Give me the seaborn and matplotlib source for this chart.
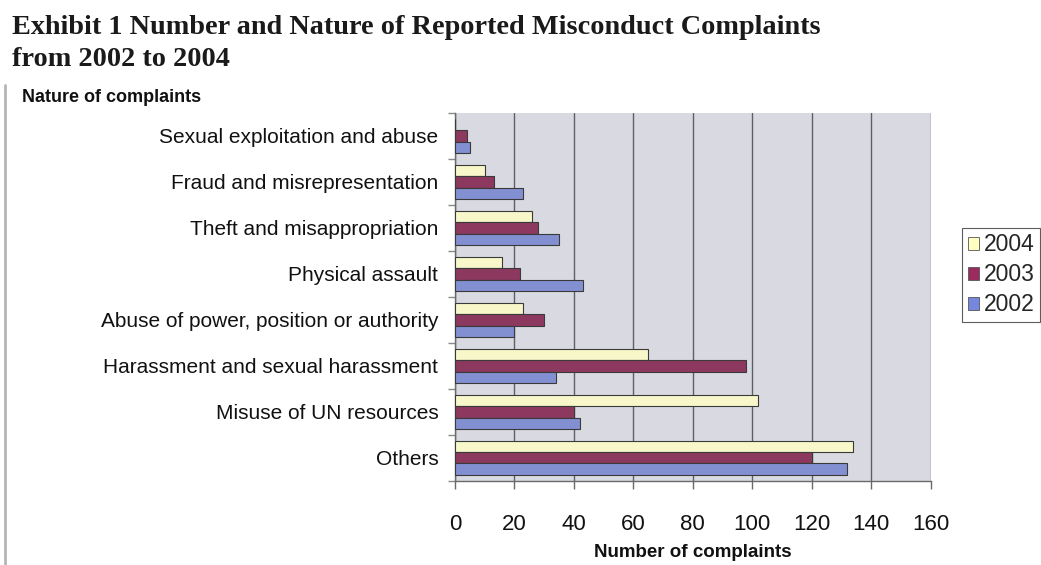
import matplotlib
matplotlib.use("Agg")
import matplotlib.pyplot as plt
from matplotlib.lines import Line2D
from matplotlib.ticker import FixedLocator, NullFormatter
import seaborn as sns
import pandas as pd

categories = [
    "Sexual exploitation and abuse",
    "Fraud and misrepresentation",
    "Theft and misappropriation",
    "Physical assault",
    "Abuse of power, position or authority",
    "Harassment and sexual harassment",
    "Misuse of UN resources",
    "Others",
]
years = ["2004", "2003", "2002"]
values_2004 = [0, 10, 26, 16, 23, 65, 102, 134]
values_2003 = [4, 13, 28, 22, 30, 98, 40, 120]
values_2002 = [5, 23, 35, 43, 20, 34, 42, 132]
x_ticks = [0, 20, 40, 60, 80, 100, 120, 140, 160]

colors = {"2004": "#FFFFC2", "2003": "#9B2A5E", "2002": "#7588DE"}

df = pd.DataFrame({
    "Nature": categories * 3,
    "Year": ["2004"] * 8 + ["2003"] * 8 + ["2002"] * 8,
    "Count": values_2004 + values_2003 + values_2002,
})

sns.set_theme(style="white")
plt.rcParams["font.family"] = ["Liberation Sans", "DejaVu Sans"]

fig = plt.figure(figsize=(10.41, 5.65), dpi=100)
ax = fig.add_axes([0.437, 0.149, 0.457, 0.651])
ax.set_facecolor("#D9D9E1")

sns.barplot(
    data=df, x="Count", y="Nature", hue="Year", hue_order=years,
    order=categories, palette=colors, orient="h", width=0.74,
    edgecolor="#3a3a3a", linewidth=0.8, ax=ax, legend=False, zorder=3,
)

ax.set_xlim(0, 160)
ax.set_ylim(len(categories) - 0.5, -0.5)
ax.xaxis.set_major_locator(FixedLocator(x_ticks))
ax.grid(axis="x", color="#5f5f66", linewidth=1.0, zorder=1)
ax.grid(axis="y", visible=False)

for side in ["top", "right"]:
    ax.spines[side].set_visible(False)
for side in ["left", "bottom"]:
    ax.spines[side].set_color("#6a6a6a")
    ax.spines[side].set_linewidth(1.0)

ax.tick_params(axis="x", which="major", bottom=True, length=6, width=1,
               color="#6a6a6a", direction="out", pad=18, labelsize=16,
               labelcolor="#111111")
ax.tick_params(axis="y", which="major", left=False, length=0, pad=12,
               labelsize=15, labelcolor="#111111")
ax.yaxis.set_minor_locator(FixedLocator([i + 0.5 for i in range(-1, len(categories))]))
ax.yaxis.set_minor_formatter(NullFormatter())
ax.tick_params(axis="y", which="minor", left=True, length=5, width=1,
               color="#8a8a8a", direction="out")

ax.set_xlabel("Number of complaints", fontsize=13.5, fontweight="bold",
              color="#111111", va="center")
ax.xaxis.set_label_coords(0.5, -0.196)
ax.set_ylabel("")

# legend on the right, running past the page edge
handles = [plt.Rectangle((0, 0), 1, 1, facecolor=colors[y], edgecolor="#555555",
                         linewidth=0.6) for y in years]
leg = fig.legend(handles, years, loc="upper left", bbox_to_anchor=(0.924, 0.597),
                 frameon=True, fontsize=16.5, handlelength=0.5, handleheight=0.5,
                 handletextpad=0.2, labelspacing=0.3, borderpad=0.25,
                 borderaxespad=0.0, fancybox=False, edgecolor="#333333")
leg.get_frame().set_linewidth(0.8)

fig.text(0.0115, 0.951, "Exhibit 1 Number and Nature of Reported Misconduct Complaints",
         fontsize=20.3, fontweight="bold", family="Liberation Serif", va="center",
         color="#1a1a1a")
fig.text(0.0115, 0.895, "from 2002 to 2004", fontsize=20.3, fontweight="bold",
         family="Liberation Serif", va="center", color="#1a1a1a")
fig.text(0.021, 0.828, "Nature of complaints", fontsize=13, fontweight="bold",
         va="center", color="#111111")

fig.add_artist(Line2D([0.005, 0.005], [0.0, 0.85], color="#b5b5b5", linewidth=2,
                      transform=fig.transFigure))

fig.savefig("out.png", dpi=100)
